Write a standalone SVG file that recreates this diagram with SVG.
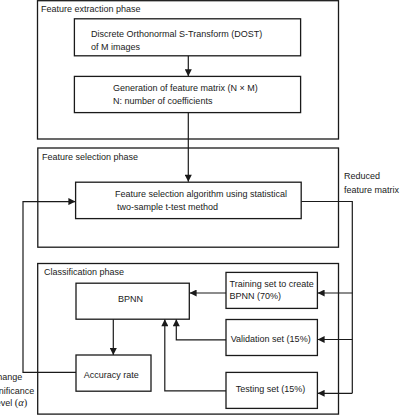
<svg xmlns="http://www.w3.org/2000/svg" width="400" height="416" viewBox="0 0 400 416">
<style>
.ph{fill:none;stroke:#1a1a1a;stroke-width:1.3}
.bx{fill:#fff;stroke:#1a1a1a;stroke-width:1.3}
.t{font-family:"Liberation Sans",Arial,sans-serif;font-size:9px;fill:#1a1a1a}
.c{fill:none;stroke:#1a1a1a;stroke-width:1.2}
.a{marker-end:url(#ah)}
</style>
<defs>
<marker id="ah" viewBox="0 0 10 10" refX="10" refY="5" markerUnits="userSpaceOnUse" markerWidth="8" markerHeight="7" orient="auto">
<path d="M0,0 L10,5 L0,10 Z" fill="#1a1a1a"/>
</marker>
</defs>
<rect width="400" height="416" fill="#fff"/>

<g id="phase-extraction">
<rect class="ph" x="37.5" y="0.7" width="301" height="138.3"/>
<text class="t" x="41" y="12">Feature extraction phase</text>
</g>
<g id="phase-selection">
<rect class="ph" x="37.8" y="148" width="300.7" height="99.2"/>
<text class="t" x="42" y="160">Feature selection phase</text>
</g>
<g id="phase-classification">
<rect class="ph" x="37.7" y="263.5" width="300.8" height="150.6"/>
<text class="t" x="44" y="274.5">Classification phase</text>
</g>

<g id="connectors">
<path class="c a" d="M188.3,55.8 V76.3"/>
<path class="c a" d="M188.3,112.6 V181.8"/>
<path class="c" d="M301.2,201.5 H352.3 V393.3"/>
<path class="c a" d="M352.3,293 H317.6"/>
<path class="c a" d="M352.3,339.5 H317.6"/>
<path class="c a" d="M352.3,393.3 H317.6"/>
<path class="c a" d="M226,293 H189.6"/>
<path class="c a" d="M226,339.8 H176.3 V319.2"/>
<path class="c a" d="M226,390.8 H164.8 V319.2"/>
<path class="c a" d="M113.3,319.2 V355"/>
<path class="c a" d="M76,372.4 H23 V201.6 H75.4"/>
</g>

<g id="dost">
<rect class="bx" x="74.4" y="18.8" width="226.2" height="37"/>
<text class="t" x="91" y="37">Discrete Orthonormal S-Transform (DOST)</text>
<text class="t" x="91" y="50">of M images</text>
</g>
<g id="feature-matrix">
<rect class="bx" x="74.4" y="76.4" width="226.2" height="36.2"/>
<text class="t" x="113" y="91.3">Generation of feature matrix (N × M)</text>
<text class="t" x="113" y="104">N: number of coefficients</text>
</g>
<g id="selection-algorithm">
<rect class="bx" x="75.6" y="182.2" width="225.6" height="36.4"/>
<text class="t" x="115" y="196.6">Feature selection algorithm using statistical</text>
<text class="t" x="117" y="210">two-sample t-test method</text>
</g>
<g id="reduced-label">
<text class="t" x="344" y="179">Reduced</text>
<text class="t" x="344" y="192.6">feature matrix</text>
</g>
<g id="bpnn">
<rect class="bx" x="76" y="283.2" width="113.3" height="36"/>
<text class="t" x="130.5" y="302.3" text-anchor="middle">BPNN</text>
</g>
<g id="training">
<rect class="bx" x="226" y="272.4" width="91.4" height="36"/>
<text class="t" x="229.5" y="286.5">Training set to create</text>
<text class="t" x="229.5" y="299.3">BPNN (70%)</text>
</g>
<g id="validation">
<rect class="bx" x="226" y="319.5" width="91.4" height="36"/>
<text class="t" x="270.7" y="342" text-anchor="middle">Validation set (15%)</text>
</g>
<g id="testing">
<rect class="bx" x="226" y="372.4" width="91.4" height="36"/>
<text class="t" x="270.4" y="391.6" text-anchor="middle">Testing set (15%)</text>
</g>
<g id="accuracy">
<rect class="bx" x="76" y="355" width="75" height="36.2"/>
<text class="t" x="111.3" y="377.6" text-anchor="middle">Accuracy rate</text>
</g>
<g id="change-label">
<text class="t" x="22.3" y="380" text-anchor="end">Change</text>
<text class="t" x="34.3" y="393.8" text-anchor="end">significance</text>
<text class="t" x="27.3" y="406.3" text-anchor="end">level <tspan font-family="'Liberation Serif','DejaVu Serif',serif" font-size="10.5">(<tspan font-style="italic">α</tspan>)</tspan></text>
</g>
</svg>
